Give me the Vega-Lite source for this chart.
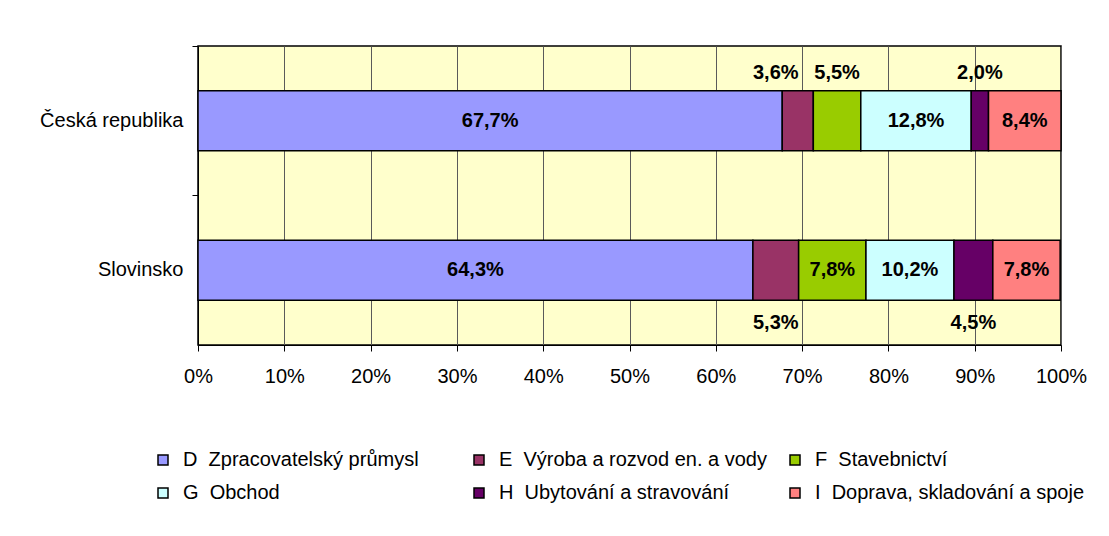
{
  "$schema": "https://vega.github.io/schema/vega-lite/v6.json",
  "width": 863,
  "height": 299,
  "autosize": {"type": "none"},
  "padding": {"left": 198, "top": 46, "right": 48, "bottom": 191},
  "background": "white",
  "config": {
    "locale": {"number": {"decimal": ",", "thousands": " ", "grouping": [3], "currency": ["", " Kč"]}},
    "view": {"fill": "#FFFFCC", "stroke": "#000000", "strokeWidth": 1.5},
    "font": "Liberation Sans",
    "text": {"font": "Liberation Sans"}
  },
  "data": {
    "values": [
      {"country": "Česká republika", "sector": "D\u00a0 Zpracovatelský průmysl", "value": 0.677},
      {"country": "Česká republika", "sector": "E\u00a0 Výroba a rozvod en. a vody", "value": 0.036},
      {"country": "Česká republika", "sector": "F\u00a0 Stavebnictví", "value": 0.055},
      {"country": "Česká republika", "sector": "G\u00a0 Obchod", "value": 0.128},
      {"country": "Česká republika", "sector": "H\u00a0 Ubytování a stravování", "value": 0.020},
      {"country": "Česká republika", "sector": "I\u00a0 Doprava, skladování a spoje", "value": 0.084},
      {"country": "Slovinsko", "sector": "D\u00a0 Zpracovatelský průmysl", "value": 0.643},
      {"country": "Slovinsko", "sector": "E\u00a0 Výroba a rozvod en. a vody", "value": 0.053},
      {"country": "Slovinsko", "sector": "F\u00a0 Stavebnictví", "value": 0.078},
      {"country": "Slovinsko", "sector": "G\u00a0 Obchod", "value": 0.102},
      {"country": "Slovinsko", "sector": "H\u00a0 Ubytování a stravování", "value": 0.045},
      {"country": "Slovinsko", "sector": "I\u00a0 Doprava, skladování a spoje", "value": 0.078}
    ]
  },
  "transform": [
    {"stack": "value", "groupby": ["country"], "sort": [{"field": "sector", "order": "ascending"}], "as": ["x0", "x1"]}
  ],
  "encoding": {
    "y": {
      "field": "country",
      "type": "nominal",
      "sort": null,
      "scale": {"paddingInner": 0.6, "paddingOuter": 0.3},
      "axis": {
        "title": null,
        "bandPosition": -0.75,
        "tickSize": 6,
        "tickColor": "#000000",
        "domainColor": "#000000",
        "labelPadding": 9,
        "labelFontSize": 20,
        "labelColor": "#000000",
        "labelFont": "Liberation Sans",
        "grid": false
      }
    }
  },
  "layer": [
    {
      "mark": {"type": "bar", "stroke": "#000000", "strokeWidth": 1.5},
      "encoding": {
        "x": {
          "field": "x0",
          "type": "quantitative",
          "scale": {"domain": [0, 1], "nice": false},
          "axis": {
            "title": null,
            "format": ".0%",
            "values": [0, 0.1, 0.2, 0.3, 0.4, 0.5, 0.6, 0.7, 0.8, 0.9, 1],
            "grid": true,
            "gridColor": "#5a5a5a",
            "gridOpacity": 1,
            "gridWidth": 1,
            "tickSize": 6,
            "tickColor": "#000000",
            "domainColor": "#000000",
            "labelPadding": 15,
            "labelFlush": false,
            "labelOverlap": false,
            "labelFontSize": 20,
            "labelColor": "#000000",
            "labelFont": "Liberation Sans"
          }
        },
        "x2": {"field": "x1"},
        "color": {
          "field": "sector",
          "type": "nominal",
          "scale": {
            "domain": ["D\u00a0 Zpracovatelský průmysl", "E\u00a0 Výroba a rozvod en. a vody", "F\u00a0 Stavebnictví", "G\u00a0 Obchod", "H\u00a0 Ubytování a stravování", "I\u00a0 Doprava, skladování a spoje"],
            "range": ["#9999FF", "#993366", "#99CC00", "#CCFFFF", "#660066", "#FF8080"]
          },
          "legend": {
            "title": null,
            "orient": "none",
            "direction": "horizontal",
            "legendX": -45,
            "legendY": 404,
            "columns": 3,
            "gridAlign": "all",
            "columnPadding": 16,
            "rowPadding": 13,
            "padding": 0,
            "symbolType": "square",
            "symbolSize": 100,
            "symbolStrokeColor": "#000000",
            "symbolStrokeWidth": 1.5,
            "labelFontSize": 20,
            "labelFont": "Liberation Sans",
            "labelColor": "#000000",
            "labelLimit": 400,
            "labelOffset": 10
          }
        }
      }
    },
    {
      "transform": [
        {"fold": ["x0", "x1"], "as": ["edge", "pos"]},
        {"filter": "datum.value >= 0.06"}
      ],
      "mark": {"type": "text", "fontWeight": "bold", "fontSize": 20, "color": "#000000", "baseline": "middle"},
      "encoding": {
        "x": {"field": "pos", "aggregate": "mean", "type": "quantitative"},
        "detail": {"field": "sector"},
        "text": {"field": "value", "type": "quantitative", "format": ".1%"}
      }
    },
    {
      "transform": [
        {"fold": ["x0", "x1"], "as": ["edge", "pos"]},
        {"filter": "datum.value < 0.06 && datum.country == 'Česká republika' && datum.sector[0] != 'E'"}
      ],
      "mark": {"type": "text", "fontWeight": "bold", "fontSize": 20, "color": "#000000", "baseline": "middle", "yOffset": -48},
      "encoding": {
        "x": {"field": "pos", "aggregate": "mean", "type": "quantitative"},
        "detail": {"field": "sector"},
        "text": {"field": "value", "type": "quantitative", "format": ".1%"}
      }
    },
    {
      "transform": [
        {"fold": ["x0", "x1"], "as": ["edge", "pos"]},
        {"filter": "datum.value < 0.06 && datum.country == 'Česká republika' && datum.sector[0] == 'E'"}
      ],
      "mark": {"type": "text", "fontWeight": "bold", "fontSize": 20, "color": "#000000", "baseline": "middle", "yOffset": -48, "dx": -22},
      "encoding": {
        "x": {"field": "pos", "aggregate": "mean", "type": "quantitative"},
        "detail": {"field": "sector"},
        "text": {"field": "value", "type": "quantitative", "format": ".1%"}
      }
    },
    {
      "transform": [
        {"fold": ["x0", "x1"], "as": ["edge", "pos"]},
        {"filter": "datum.value < 0.06 && datum.country == 'Slovinsko'"}
      ],
      "mark": {"type": "text", "fontWeight": "bold", "fontSize": 20, "color": "#000000", "baseline": "middle", "yOffset": 53},
      "encoding": {
        "x": {"field": "pos", "aggregate": "mean", "type": "quantitative"},
        "detail": {"field": "sector"},
        "text": {"field": "value", "type": "quantitative", "format": ".1%"}
      }
    }
  ]
}
